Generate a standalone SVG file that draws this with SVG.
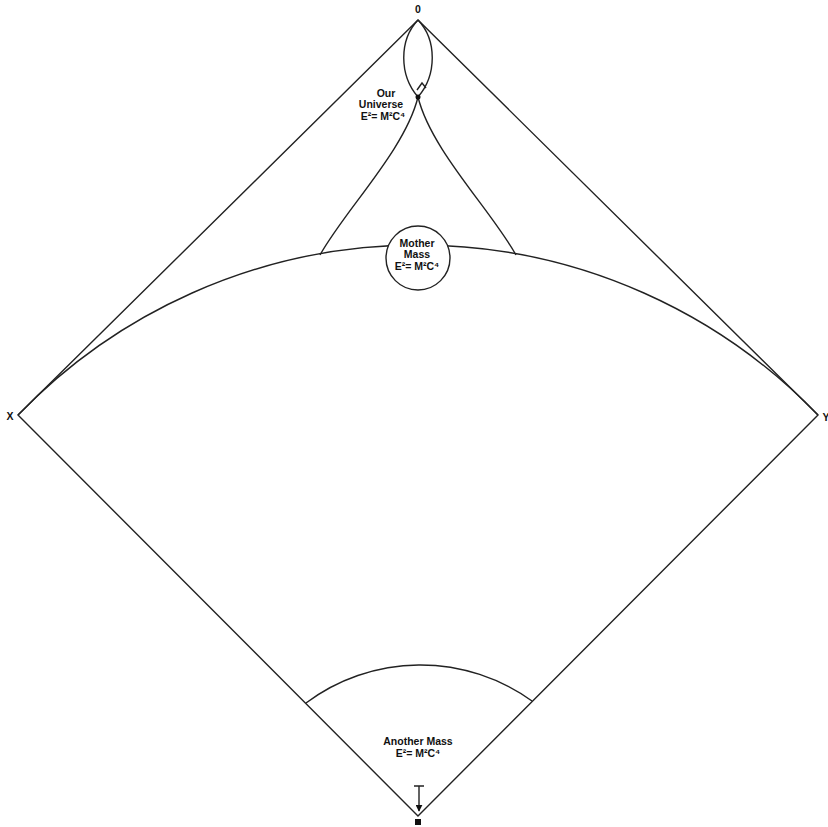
<svg xmlns="http://www.w3.org/2000/svg" width="828" height="827" viewBox="0 0 828 827">
<style>
.ln{fill:none;stroke:#222;stroke-width:1.4}
.lbl{font-family:"Liberation Sans",Arial,sans-serif;font-weight:bold;font-size:10.5px;fill:#111;text-anchor:middle}
</style>
<defs>
<marker id="ah" viewBox="0 0 10 10" refX="9" refY="5" markerWidth="5" markerHeight="5" orient="auto"><path d="M0,0 L10,5 L0,10 z" fill="#111"/></marker>
</defs>
<rect width="828" height="827" fill="#fff"/>
<g id="connectors">
<path class="ln" d="M418,20 L18,415 L418,816 L818,415 Z"/>
<path class="ln" d="M18,415 A555.6,555.6 0 0 1 818,415"/>
<path class="ln" d="M320,255 C345,210 405,150 418,97"/>
<path class="ln" d="M516,255 C491,210 431,150 418,97"/>
<path class="ln" d="M418,97 C399,75 399,40 418,20"/>
<path class="ln" d="M418,97 C437,75 437,40 418,20"/>
<path class="ln" d="M417,90 L422,83 L426,88"/>
<path class="ln" d="M306,703 A191,191 0 0 1 532,701"/>
<path class="ln" d="M414,786 L424,786 M419,786 L419,811" marker-end="url(#ah)"/>
</g>
<g id="top-label"><text class="lbl" x="418" y="13">0</text></g>
<g id="x-label"><text class="lbl" x="10" y="420">X</text></g>
<g id="y-label"><text class="lbl" x="826" y="421">Y</text></g>
<g id="bottom-point"><rect x="415" y="819" width="6" height="6" fill="#111"/></g>
<g id="cusp"><circle cx="418" cy="97" r="2.5" fill="#111"/></g>
<g id="our-universe">
<text class="lbl" x="386" y="97">Our</text>
<text class="lbl" x="381" y="108">Universe</text>
<text class="lbl" x="383" y="120">E²= M²C⁴</text>
</g>
<g id="mother-mass">
<circle cx="418" cy="258" r="32" fill="#fff" stroke="#222" stroke-width="1.4"/>
<text class="lbl" x="417" y="247">Mother</text>
<text class="lbl" x="417" y="258">Mass</text>
<text class="lbl" x="417" y="270">E²= M²C⁴</text>
</g>
<g id="another-mass">
<text class="lbl" x="418" y="745">Another Mass</text>
<text class="lbl" x="418" y="757">E²= M²C⁴</text>
</g>
</svg>
